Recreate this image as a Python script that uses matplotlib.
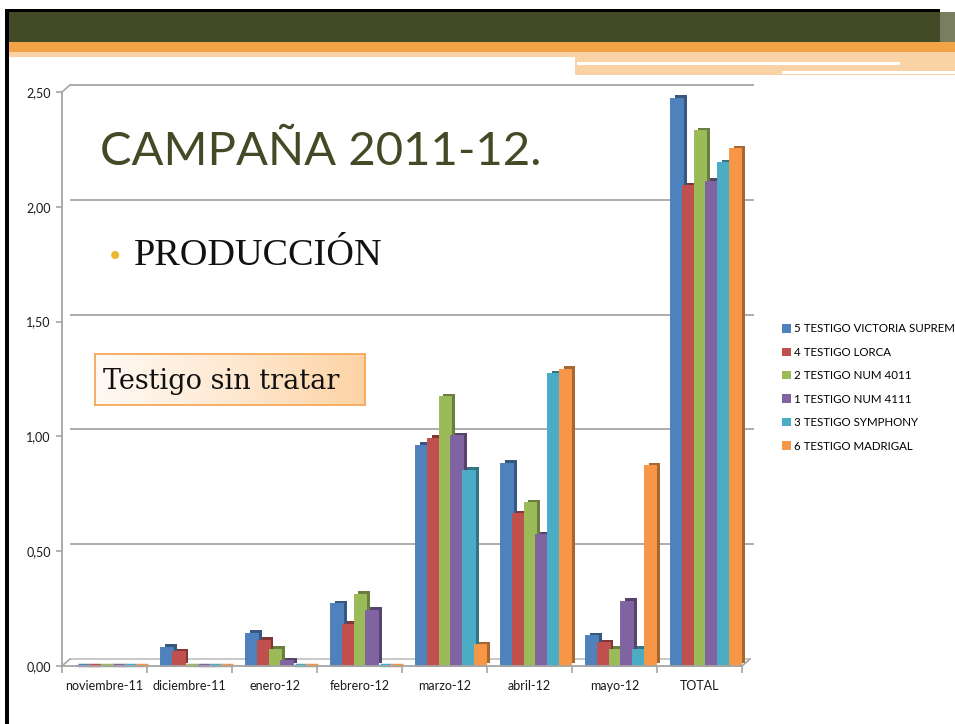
import matplotlib
matplotlib.use("Agg")
import matplotlib.pyplot as plt
import matplotlib.patheffects as pe
import matplotlib.transforms as mtransforms
from matplotlib.patches import Rectangle
import numpy as np

categories = ["noviembre-11", "diciembre-11", "enero-12", "febrero-12",
              "marzo-12", "abril-12", "mayo-12", "TOTAL"]
series_names = ["5 TESTIGO VICTORIA SUPREM", "4 TESTIGO LORCA", "2 TESTIGO NUM 4011",
                "1 TESTIGO NUM 4111", "3 TESTIGO SYMPHONY", "6 TESTIGO MADRIGAL"]
victoria = [0.00, 0.08, 0.14, 0.27, 0.96, 0.88, 0.13, 2.47]
lorca = [0.00, 0.06, 0.11, 0.18, 0.99, 0.66, 0.10, 2.09]
num4011 = [0.00, 0.00, 0.07, 0.31, 1.17, 0.71, 0.07, 2.33]
num4111 = [0.00, 0.00, 0.02, 0.24, 1.00, 0.57, 0.28, 2.11]
symphony = [0.00, 0.00, 0.00, 0.00, 0.85, 1.27, 0.07, 2.19]
madrigal = [0.00, 0.00, 0.00, 0.00, 0.09, 1.29, 0.87, 2.25]
yticks = [0.0, 0.5, 1.0, 1.5, 2.0, 2.5]
ytick_labels = ["0,00", "0,50", "1,00", "1,50", "2,00", "2,50"]

series = [victoria, lorca, num4011, num4111, symphony, madrigal]
colors = ["#4F81BD", "#C0504D", "#9BBB59", "#8064A2", "#4BACC6", "#F79646"]

W, H = 955, 724
fig = plt.figure(figsize=(W / 100, H / 100), dpi=100)
fig.patch.set_facecolor("white")


def px_rect(x0, y0, x1, y1, color, z=0, alpha=1.0):
    fig.patches.append(Rectangle((x0 / W, 1 - y1 / H), (x1 - x0) / W, (y1 - y0) / H,
                                 transform=fig.transFigure, facecolor=color,
                                 edgecolor="none", zorder=z, alpha=alpha))


# slide header decoration
px_rect(6, 9, 940, 12, "#000000", z=5)
px_rect(8, 12, 940, 42, "#434A26", z=4)
px_rect(940, 12, 955, 42, "#7A7E60", z=4)
px_rect(8, 42, 955, 52, "#F2A546", z=4)
px_rect(8, 52, 575, 57, "#F9D3A5", z=4)
px_rect(575, 52, 955, 75, "#F9D3A5", z=4)
px_rect(577, 62, 900, 65, "#FFFFFF", z=5)
px_rect(782, 71, 955, 74, "#FFFFFF", z=5)
px_rect(5, 9, 9, 724, "#000000", z=6)

# chart axes
ax = fig.add_axes([62 / W, 58 / H, 680 / W, 574 / H])
ax.set_facecolor("none")
ax.set_xlim(-0.5, len(categories) - 0.5)
ax.set_ylim(0, 2.5)

off = mtransforms.ScaledTranslation(8 / 100, 7 / 100, fig.dpi_scale_trans)
grid_tr = ax.transData + off
ax.hlines(yticks[1:], -0.5, len(categories) - 0.5 + 0.05, colors="#A6A6A6",
          linewidth=1.3, transform=grid_tr, zorder=0, clip_on=False)
ax.hlines([0], -0.5, len(categories) - 0.5, colors="#BFBFBF", linewidth=1.2,
          transform=grid_tr, zorder=0, clip_on=False)
inv = ax.transData.inverted()
for xv, yv in [(-0.5, 0.0), (-0.5, 2.5), (len(categories) - 0.5, 0.0)]:
    q0 = inv.transform(ax.transData.transform((xv, yv)))
    q1 = inv.transform(grid_tr.transform((xv, yv)))
    ax.plot([q0[0], q1[0]], [q0[1], q1[1]], color="#A6A6A6", lw=1.2,
            clip_on=False, zorder=0)

n = len(series)
bw = 0.138
shift = 0.08
x = np.arange(len(categories))
flat_tr = ax.transData + mtransforms.ScaledTranslation(1.5 / 100, 1.5 / 100,
                                                         fig.dpi_scale_trans)
for i, (vals, c, name) in enumerate(zip(series, colors, series_names)):
    pos = x + shift + (i - (n - 1) / 2) * bw
    rgb = np.array(matplotlib.colors.to_rgb(c))
    dark = tuple(rgb * 0.68)
    bars = ax.bar(pos, vals, width=bw, color=c, edgecolor=c, linewidth=1.4,
                  label=name, zorder=2 + i * 0.01, clip_on=False)
    for b in bars:
        b.set_path_effects([pe.SimplePatchShadow(offset=(2.8, 2.5),
                                                 shadow_rgbFace=dark, alpha=1.0),
                            pe.Normal()])
    v = np.array(vals)
    zero = v == 0
    if zero.any():
        ax.hlines(v[zero], pos[zero] - bw / 2, pos[zero] + bw / 2, colors=c,
                  linewidth=2.5, transform=flat_tr, zorder=1.5, clip_on=False)

for s in ["top", "right"]:
    ax.spines[s].set_visible(False)
for s in ["left", "bottom"]:
    ax.spines[s].set_color("#A6A6A6")
    ax.spines[s].set_linewidth(1.3)

ax.set_yticks(yticks)
ax.set_yticklabels(ytick_labels, fontsize=9, fontfamily="Lato", color="#1A1A1A")
ax.set_xticks(np.arange(-0.5, len(categories) + 0.5, 1.0))
ax.set_xticklabels([])
ax.set_xticks(x, minor=True)
ax.set_xticklabels(categories, minor=True, fontsize=9, fontfamily="Lato",
                   color="#1A1A1A")
ax.tick_params(axis="x", which="minor", length=0, pad=10)
ax.tick_params(axis="x", which="major", length=5, color="#A6A6A6", width=1.2)
ax.tick_params(axis="y", length=4, color="#A6A6A6", width=1.2, pad=4)

leg = fig.legend(loc="upper left", bbox_to_anchor=(772 / W, 1 - 313 / H),
                 frameon=False, handlelength=0.75, handleheight=0.75,
                 handletextpad=0.3, labelspacing=1.08,
                 prop={"family": "Lato", "size": 8.3})
for h in leg.legend_handles:
    h.set_path_effects([])
    h.set_linewidth(0)

# slide texts
fig.text(100 / W, 1 - 152 / H, "CAMPAÑA 2011-12.", fontsize=34, fontfamily="Lato",
         color="#434A26", va="center", ha="left", zorder=10)
fig.text(107 / W, 1 - 257 / H, "•", fontsize=20, color="#E8B830",
         va="center", ha="left", zorder=10)
fig.text(134 / W, 1 - 256 / H, "PRODUCCIÓN", fontsize=27.5,
         fontfamily="Liberation Serif", color="#111111", va="center", ha="left",
         zorder=10)

# gradient box
bax = fig.add_axes([95 / W, 1 - 405 / H, 270 / W, 51 / H])
grad = np.linspace(0, 1, 256)[None, :]
cmap = matplotlib.colors.LinearSegmentedColormap.from_list(
    "peach", ["#FFFAF4", "#FEE9D2", "#FDD3A4"])
bax.imshow(grad, aspect="auto", cmap=cmap, extent=(0, 1, 0, 1))
bax.set_xticks([])
bax.set_yticks([])
for s in bax.spines.values():
    s.set_color("#F5A95A")
    s.set_linewidth(1.3)
bax.text(0.03, 0.47, "Testigo sin tratar", fontsize=19.5, fontfamily="DejaVu Serif",
         color="#111111", va="center", ha="left", transform=bax.transAxes)

fig.savefig("out.png", dpi=100)
